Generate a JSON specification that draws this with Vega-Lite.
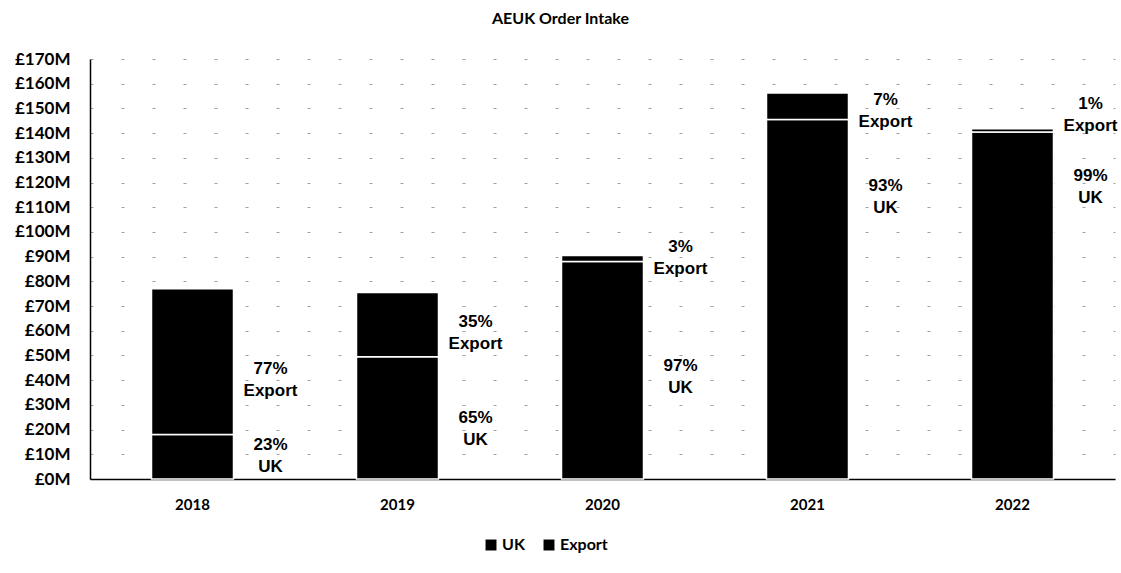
{
  "$schema": "https://vega.github.io/schema/vega-lite/v6.json",
  "autosize": {"type": "none"},
  "padding": {"left": 90, "top": 59, "right": 6, "bottom": 94},
  "width": 1025,
  "height": 420,
  "background": "white",
  "config": {"view": {"stroke": null}},
  "title": {"text": "AEUK Order Intake", "font": "Lato", "fontWeight": "bold", "fontSize": 16, "color": "black", "anchor": "middle", "dx": -42, "offset": 23},
  "datasets": {
    "orders": [
      {"year": "2018", "series": "UK", "value": 18},
      {"year": "2018", "series": "Export", "value": 59},
      {"year": "2019", "series": "UK", "value": 49.5},
      {"year": "2019", "series": "Export", "value": 26},
      {"year": "2020", "series": "UK", "value": 88},
      {"year": "2020", "series": "Export", "value": 2.5},
      {"year": "2021", "series": "UK", "value": 145.5},
      {"year": "2021", "series": "Export", "value": 10.7},
      {"year": "2022", "series": "UK", "value": 140.5},
      {"year": "2022", "series": "Export", "value": 1.3}
    ],
    "labels": [
      {"year": "2018", "label": "77%\nExport", "at": 40.5},
      {"year": "2018", "label": "23%\nUK", "at": 9.7},
      {"year": "2019", "label": "35%\nExport", "at": 59.5},
      {"year": "2019", "label": "65%\nUK", "at": 20.6},
      {"year": "2020", "label": "3%\nExport", "at": 89.9},
      {"year": "2020", "label": "97%\nUK", "at": 41.7},
      {"year": "2021", "label": "7%\nExport", "at": 149.4},
      {"year": "2021", "label": "93%\nUK", "at": 114.6},
      {"year": "2022", "label": "1%\nExport", "at": 147.8},
      {"year": "2022", "label": "99%\nUK", "at": 118.6}
    ]
  },
  "resolve": {"axis": {"x": "independent", "y": "independent"}},
  "layer": [
    {
      "data": {"name": "orders"},
      "mark": {"type": "bar", "color": "black", "stroke": "white", "strokeWidth": 1.5},
      "encoding": {
        "x": {
          "field": "year", "type": "nominal", "title": null,
          "scale": {"paddingInner": 0.6, "paddingOuter": 0.3},
          "axis": {"labelAngle": 0, "ticks": false, "domainColor": "black", "domainWidth": 1.5, "labelFont": "Lato", "labelFontWeight": "bold", "labelFontSize": 15, "labelColor": "black", "labelPadding": 18}
        },
        "y": {
          "field": "value", "type": "quantitative", "aggregate": "sum", "stack": "zero", "title": null,
          "scale": {"domain": [0, 170], "nice": false},
          "axis": {"values": [0,10,20,30,40,50,60,70,80,90,100,110,120,130,140,150,160,170], "labelOverlap": false, "labelExpr": "'£' + datum.value + 'M'", "labelFont": "Lato", "labelFontWeight": "bold", "labelFontSize": 17, "labelColor": "black", "ticks": false, "labelPadding": 20, "domainColor": "black", "domainWidth": 1.5, "grid": true, "gridColor": "#777", "gridDash": [3, 28], "gridOpacity": 0.7}
        },
        "color": {
          "field": "series", "type": "nominal", "sort": ["UK", "Export"],
          "scale": {"domain": ["UK", "Export"], "range": ["black", "black"]},
          "legend": {"title": null, "orient": "none", "direction": "horizontal", "legendX": 393, "legendY": 478, "symbolType": "square", "symbolSize": 120, "symbolStrokeWidth": 0, "labelFont": "Lato", "labelFontWeight": "bold", "labelFontSize": 16, "labelColor": "black", "columnPadding": 16, "labelOffset": 3}
        },
        "order": {"field": "series", "sort": "descending"}
      }
    },
    {
      "data": {"name": "labels"},
      "mark": {"type": "text", "font": "Liberation Sans", "fontWeight": "bold", "fontSize": 17, "color": "black", "lineBreak": "\n", "lineHeight": 22, "align": "center", "baseline": "middle", "dx": 78, "dy": -10},
      "encoding": {
        "x": {"field": "year", "type": "nominal", "axis": null},
        "y": {"field": "at", "type": "quantitative", "axis": null},
        "text": {"field": "label"}
      }
    }
  ]
}
